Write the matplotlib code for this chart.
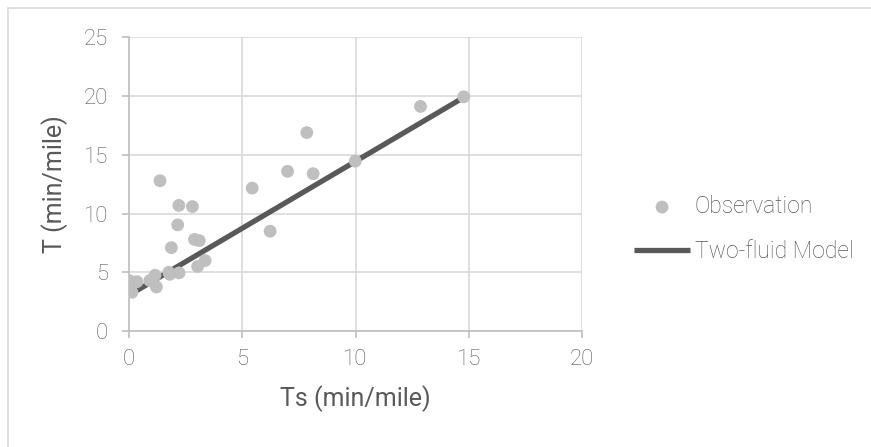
import matplotlib.pyplot as plt
from matplotlib.patches import Rectangle
from matplotlib import font_manager

# observed trip times vs stopped times
ts_obs = [0.0, 0.35, 0.13, 0.92, 1.15, 1.21, 1.37, 1.76, 1.8, 1.87, 2.15, 2.2, 2.21,
          2.8, 2.89, 3.03, 3.1, 3.36, 5.44, 6.23, 7.0, 7.85, 8.13, 9.99, 12.87, 14.78]
t_obs = [4.3, 4.2, 3.3, 4.3, 4.75, 3.75, 12.8, 5.0, 4.83, 7.1, 9.04, 10.7, 4.95,
         10.6, 7.8, 5.5, 7.7, 6.0, 12.17, 8.5, 13.6, 16.9, 13.4, 14.47, 19.13, 19.95]

# two-fluid model fit
ts_model = [0.35, 14.78]
t_model = [3.45, 19.9]

x_ticks = [0, 5, 10, 15, 20]
y_ticks = [0, 5, 10, 15, 20, 25]

names = {f.name for f in font_manager.fontManager.ttflist}
family = 'Roboto' if 'Roboto' in names else 'DejaVu Sans'
plt.rcParams['font.family'] = family
plt.rcParams['font.weight'] = 'light'

W, H = 871, 447
fig = plt.figure(figsize=(W / 100, H / 100), dpi=100)
fig.patches.append(Rectangle((8 / W, -0.1), 1.2, 1 - 8 / H + 0.1, transform=fig.transFigure,
                             fill=False, edgecolor='#d9d9d9', linewidth=1.2))

ax = fig.add_axes([129 / W, 1 - 331 / H, (582 - 129) / W, (331 - 37.5) / H])
ax.set_xlim(0, 20)
ax.set_ylim(0, 25)
ax.set_xticks(x_ticks)
ax.set_yticks(y_ticks)

ax.grid(True, color='#d9d9d9', linewidth=1.2)
ax.set_axisbelow(True)
for side in ['top', 'right']:
    ax.spines[side].set_visible(False)
for side in ['left', 'bottom']:
    ax.spines[side].set_color('#bfbfbf')
    ax.spines[side].set_linewidth(1.2)
ax.tick_params(length=5, width=1.2, color='#bfbfbf', labelcolor='#595959',
               labelsize=16)
ax.tick_params(axis='x', pad=8)
ax.tick_params(axis='y', pad=10)

ax.plot(ts_model, t_model, color='#595959', linewidth=3.8, solid_capstyle='butt',
        label='Two-fluid Model', zorder=2)
ax.scatter(ts_obs, t_obs, s=85, color='#bfbfbf', edgecolors='none',
           label='Observation', zorder=3)

ax.set_xlabel('Ts (min/mile)', fontsize=18, color='#595959', labelpad=11)
ax.set_ylabel('T (min/mile)', fontsize=18, color='#595959', labelpad=11)

handles, labels = ax.get_legend_handles_labels()
leg = fig.legend(handles[::-1], labels[::-1], loc='center left',
                 bbox_to_anchor=(634 / W, 1 - 229 / H), frameon=False,
                 borderpad=0, borderaxespad=0,
                 fontsize=16.5, labelcolor='#595959', handlelength=2.45,
                 handletextpad=0.2, labelspacing=0.95, scatterpoints=1)

fig.savefig('out.png', dpi=100)
